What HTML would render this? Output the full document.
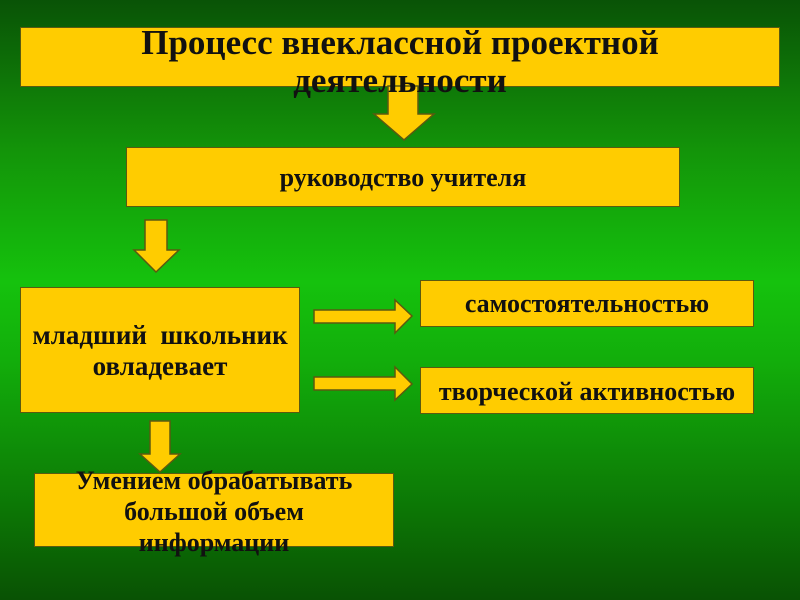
<!DOCTYPE html>
<html><head><meta charset="utf-8"><style>
html,body{margin:0;padding:0;}
body{width:800px;height:600px;position:relative;overflow:hidden;
background:linear-gradient(to bottom,#095306 0%,#139409 25%,#15c20d 47%,#12ae0b 60%,#0c7605 85%,#095204 100%);
font-family:"Liberation Serif",serif;font-weight:bold;color:#111;}
.b{position:absolute;background:#ffcc00;border:1.5px solid #5a5a10;box-sizing:border-box;}
.t{position:absolute;text-align:center;white-space:nowrap;}
svg{position:absolute;left:0;top:0;}
</style></head><body>
<div class="b" style="left:20px;top:27px;width:760px;height:60px"></div>
<div class="b" style="left:126px;top:147px;width:554px;height:60px"></div>
<div class="b" style="left:20px;top:287px;width:280px;height:126px"></div>
<div class="b" style="left:420px;top:280px;width:334px;height:47px"></div>
<div class="b" style="left:420px;top:367px;width:334px;height:47px"></div>
<div class="b" style="left:34px;top:473px;width:360px;height:74px"></div>
<svg width="800" height="600">
<g fill="#ffcc00" stroke="#5a5a10" stroke-width="1.5">
<polygon points="388,86 418,86 418,114 434,114 404,140 374,114 388,114"/>
<polygon points="145,220 167,220 167,250 179,250 156,272 134,250 145,250"/>
<polygon points="150,421 170,421 170,454 180,454 160,472 140,454 150,454"/>
<polygon points="314,310 395,310 395,300 412,316 395,333 395,323 314,323"/>
<polygon points="314,377 395,377 395,367 412,384 395,400 395,390 314,390"/>
</g></svg>
<div class="t" style="left:0;width:800px;top:24px;font-size:35px;line-height:38px">Процесс внеклассной проектной<br>деятельности</div>
<div class="t" style="left:126px;width:554px;top:164px;font-size:26px;line-height:28px">руководство учителя</div>
<div class="t" style="left:20px;width:280px;top:320px;font-size:27px;line-height:31px">младший&nbsp; школьник<br>овладевает</div>
<div class="t" style="left:420px;width:334px;top:290px;font-size:26px;line-height:28px">самостоятельностью</div>
<div class="t" style="left:420px;width:334px;top:378px;font-size:26px;line-height:28px">творческой активностью</div>
<div class="t" style="left:34px;width:360px;top:465px;font-size:26px;line-height:31px">Умением обрабатывать<br>большой объем<br>информации</div>
</body></html>
